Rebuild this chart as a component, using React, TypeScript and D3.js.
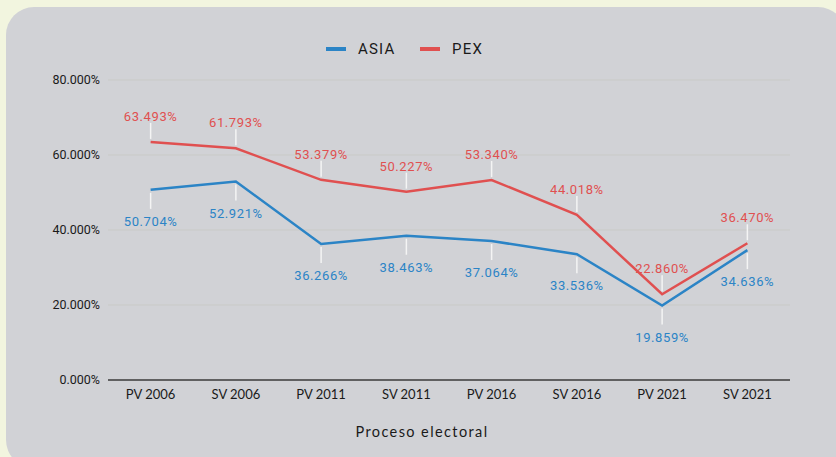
import { useEffect, useRef } from 'react';
import * as d3 from 'd3';

const categories = ['PV 2006', 'SV 2006', 'PV 2011', 'SV 2011', 'PV 2016', 'SV 2016', 'PV 2021', 'SV 2021'];
const asiaValues = [50.704, 52.921, 36.266, 38.463, 37.064, 33.536, 19.859, 34.636];
const pexValues = [63.493, 61.793, 53.379, 50.227, 53.34, 44.018, 22.86, 36.47];
const yTicks = [0, 20, 40, 60, 80];

const W = 836;
const H = 457;

export default function App() {
  const svgRef = useRef<SVGSVGElement>(null);

  useEffect(() => {
    if (!svgRef.current) return;
    const svg = d3.select(svgRef.current);
    svg.selectAll('*').remove();

    // page background + card
    svg.append('rect').attr('width', W).attr('height', H).attr('fill', '#f2f5df');
    svg.append('rect')
      .attr('x', 6).attr('y', 7)
      .attr('width', W + 4).attr('height', H + 4)
      .attr('rx', 28)
      .attr('fill', '#d1d2d6');

    const x = d3.scaleBand().domain(categories).range([108, 790]);
    const y = d3.scaleLinear().domain([0, 80]).range([380, 80]);
    const cx = (c: string) => (x(c) || 0) + x.bandwidth() / 2;

    // gridlines
    svg.append('g')
      .selectAll('line')
      .data(yTicks.filter(t => t > 0))
      .enter()
      .append('line')
      .attr('x1', 108).attr('x2', 790)
      .attr('y1', d => y(d)).attr('y2', d => y(d))
      .attr('stroke', '#c9cac7')
      .attr('stroke-width', 1);

    // y tick labels
    svg.append('g')
      .selectAll('text')
      .data(yTicks)
      .enter()
      .append('text')
      .attr('x', 100)
      .attr('y', d => y(d))
      .attr('dy', '0.35em')
      .attr('text-anchor', 'end')
      .style('font-family', 'Roboto, sans-serif')
      .style('font-size', '12.5px')
      .style('fill', '#1a1a1a')
      .text(d => d.toFixed(3) + '%');

    // x axis line
    svg.append('line')
      .attr('x1', 108).attr('x2', 790)
      .attr('y1', y(0)).attr('y2', y(0))
      .attr('stroke', '#3a3a3a')
      .attr('stroke-width', 1.5);

    // x labels
    svg.append('g')
      .selectAll('text')
      .data(categories)
      .enter()
      .append('text')
      .attr('x', d => cx(d))
      .attr('y', 399)
      .attr('text-anchor', 'middle')
      .style('font-family', 'Lato, sans-serif')
      .style('font-size', '13px')
      .style('fill', '#1a1a1a')
      .text(d => d);

    svg.append('text')
      .attr('x', 422).attr('y', 437)
      .attr('text-anchor', 'middle')
      .style('font-family', 'Lato, sans-serif')
      .style('font-size', '14.5px')
      .style('letter-spacing', '1.4px')
      .style('fill', '#1a1a1a')
      .text('Proceso electoral');

    const series = [
      { name: 'ASIA', values: asiaValues, color: '#2b84c6', above: false },
      { name: 'PEX', values: pexValues, color: '#e05050', above: true },
    ];

    const line = d3.line<number>()
      .x((_, i) => cx(categories[i]))
      .y(d => y(d));

    series.forEach(s => {
      const g = svg.append('g');
      // leader lines
      g.selectAll('line')
        .data(s.values)
        .enter()
        .append('line')
        .attr('x1', (_, i) => cx(categories[i]))
        .attr('x2', (_, i) => cx(categories[i]))
        .attr('y1', d => y(d) + (s.above ? -3 : 3))
        .attr('y2', d => y(d) + (s.above ? -19 : 19))
        .attr('stroke', '#f4f4f4')
        .attr('stroke-width', 1.5);

      g.append('path')
        .datum(s.values)
        .attr('d', line)
        .attr('fill', 'none')
        .attr('stroke', s.color)
        .attr('stroke-width', 2.5);

      g.selectAll('text')
        .data(s.values)
        .enter()
        .append('text')
        .attr('x', (_, i) => cx(categories[i]))
        .attr('y', d => y(d) + (s.above ? -21 : 36))
        .attr('text-anchor', 'middle')
        .style('font-family', 'Roboto, sans-serif')
        .style('font-size', '13px')
        .style('letter-spacing', '0.6px')
        .style('fill', s.color)
        .text(d => d.toFixed(3) + '%');
    });

    // legend
    const legend = svg.append('g');
    const legendItems = [
      { name: 'ASIA', color: '#2b84c6', x: 326 },
      { name: 'PEX', color: '#e05050', x: 420 },
    ];
    legendItems.forEach(item => {
      legend.append('rect')
        .attr('x', item.x).attr('y', 47)
        .attr('width', 20).attr('height', 4)
        .attr('fill', item.color);
      legend.append('text')
        .attr('x', item.x + 32).attr('y', 54)
        .style('font-family', 'Roboto, sans-serif')
        .style('font-size', '15px')
        .style('letter-spacing', '1.2px')
        .style('fill', '#1a1a1a')
        .text(item.name);
    });
  }, []);

  return (
    <svg
      ref={svgRef}
      width={W}
      height={H}
      style={{ position: 'absolute', left: 0, top: 0, display: 'block' }}
    />
  );
}
